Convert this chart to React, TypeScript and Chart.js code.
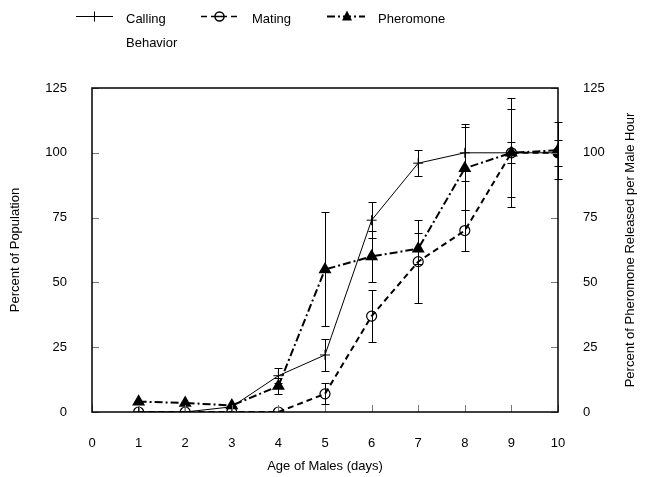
import React, { useEffect, useRef } from "react";
import { Chart, registerables } from "chart.js";

Chart.register(...registerables);

const days = [1, 2, 3, 4, 5, 6, 7, 8, 9, 10];
const calling = [0, 0, 2, 14, 22, 74, 96, 100, 100, 100];
const callingErr = [0, 0, 0, 3, 6, 7, 5, 11, 4, 5];
const mating = [0, 0, 0, 0, 7, 37, 58, 70, 100, 100];
const matingErr = [0, 0, 0, 0, 4, 10, 16, 8, 21, 0];
const pheromone = [4, 3.5, 2.5, 10, 55, 60, 63, 94, 100, 101];
const pheromoneErr = [0, 0, 0, 3, 22, 10, 6, 16, 17, 11];
const xTicks = [0, 1, 2, 3, 4, 5, 6, 7, 8, 9, 10];
const yTicks = [0, 25, 50, 75, 100, 125];

const FONT = "'Liberation Sans', Arial, Helvetica, sans-serif";

export default function App() {
  const ref = useRef<HTMLCanvasElement>(null);

  useEffect(() => {
    document.body.style.margin = "0";
    const canvas = ref.current!;
    const mk = (ys: number[]) => days.map((d, i) => ({ x: d, y: ys[i] }));

    const errPlugin = {
      id: "errbars",
      beforeDatasetsDraw(chart: any) {
        const ctx = chart.ctx;
        const xs = chart.scales.x;
        const sets = [
          { vals: calling, err: callingErr, axis: "y" },
          { vals: mating, err: matingErr, axis: "y" },
          { vals: pheromone, err: pheromoneErr, axis: "y2" },
        ];
        ctx.save();
        ctx.strokeStyle = "#000";
        ctx.lineWidth = 1;
        ctx.setLineDash([]);
        sets.forEach((s) => {
          const ys = chart.scales[s.axis];
          days.forEach((d, i) => {
            const e = s.err[i];
            if (!e) return;
            const px = Math.round(xs.getPixelForValue(d)) + 0.5;
            const top = Math.round(ys.getPixelForValue(s.vals[i] + e)) + 0.5;
            const bot = Math.round(ys.getPixelForValue(s.vals[i] - e)) + 0.5;
            ctx.beginPath();
            ctx.moveTo(px, top);
            ctx.lineTo(px, bot);
            ctx.moveTo(px - 4, top);
            ctx.lineTo(px + 4, top);
            ctx.moveTo(px - 4, bot);
            ctx.lineTo(px + 4, bot);
            ctx.stroke();
          });
        });
        ctx.restore();
      },
    };

    const framePlugin = {
      id: "frame",
      afterDraw(chart: any) {
        const ctx = chart.ctx;
        const a = chart.chartArea;
        const xs = chart.scales.x;
        const yl = chart.scales.y;
        const yr = chart.scales.y2;
        ctx.save();
        // inward ticks
        ctx.strokeStyle = "#777";
        ctx.lineWidth = 1;
        yTicks.forEach((v) => {
          const py = Math.round(yl.getPixelForValue(v)) + 0.5;
          ctx.beginPath();
          ctx.moveTo(a.left, py);
          ctx.lineTo(a.left + 7, py);
          ctx.stroke();
          const pr = Math.round(yr.getPixelForValue(v)) + 0.5;
          ctx.beginPath();
          ctx.moveTo(a.right, pr);
          ctx.lineTo(a.right - 7, pr);
          ctx.stroke();
        });
        xTicks.forEach((v) => {
          const px = Math.round(xs.getPixelForValue(v)) + 0.5;
          ctx.beginPath();
          ctx.moveTo(px, a.bottom);
          ctx.lineTo(px, a.bottom - 7);
          ctx.stroke();
        });
        // frame
        ctx.strokeStyle = "#000";
        ctx.lineWidth = 1.5;
        ctx.strokeRect(a.left, a.top, a.right - a.left, a.bottom - a.top);

        // right title
        ctx.fillStyle = "#000";
        ctx.font = `13px ${FONT}`;
        ctx.textAlign = "center";
        ctx.textBaseline = "middle";
        ctx.translate(630, (a.top + a.bottom) / 2);
        ctx.rotate(-Math.PI / 2);
        ctx.fillText("Percent of Pheromone Released per Male Hour", 0, 0);
        ctx.restore();

        // legend
        ctx.save();
        ctx.strokeStyle = "#000";
        ctx.fillStyle = "#000";
        const ly = 16.5;
        // calling
        ctx.lineWidth = 1;
        ctx.setLineDash([]);
        ctx.beginPath();
        ctx.moveTo(76, ly);
        ctx.lineTo(113, ly);
        ctx.moveTo(94.5, ly - 5);
        ctx.lineTo(94.5, ly + 5);
        ctx.stroke();
        // mating
        ctx.lineWidth = 1.5;
        ctx.setLineDash([6, 4]);
        ctx.beginPath();
        ctx.moveTo(201, ly);
        ctx.lineTo(238, ly);
        ctx.stroke();
        ctx.setLineDash([]);
        ctx.fillStyle = "#fff";
        ctx.beginPath();
        ctx.arc(219.5, ly, 4.5, 0, Math.PI * 2);
        ctx.fill();
        ctx.stroke();
        ctx.beginPath();
        ctx.moveTo(215, ly);
        ctx.lineTo(224, ly);
        ctx.stroke();
        // pheromone
        ctx.lineWidth = 2;
        ctx.setLineDash([8, 3, 2, 3]);
        ctx.beginPath();
        ctx.moveTo(327, ly);
        ctx.lineTo(365, ly);
        ctx.stroke();
        ctx.setLineDash([]);
        ctx.fillStyle = "#000";
        ctx.beginPath();
        ctx.moveTo(347, ly - 6);
        ctx.lineTo(352, ly + 4);
        ctx.lineTo(342, ly + 4);
        ctx.closePath();
        ctx.fill();
        // text
        ctx.font = `13px ${FONT}`;
        ctx.textAlign = "left";
        ctx.textBaseline = "middle";
        ctx.fillText("Calling", 126, 19);
        ctx.fillText("Behavior", 126, 43);
        ctx.fillText("Mating", 252, 19);
        ctx.fillText("Pheromone", 378, 19);
        ctx.restore();
      },
    };

    const tickFont = { family: FONT, size: 13 };

    const chart = new Chart(canvas, {
      type: "line",
      data: {
        datasets: [
          {
            label: "Calling Behavior",
            data: mk(calling),
            yAxisID: "y",
            borderColor: "#000",
            borderWidth: 1,
            pointStyle: "cross",
            pointRadius: 5,
            pointBorderColor: "#000",
            pointBorderWidth: 1,
            tension: 0,
          },
          {
            label: "Mating",
            data: mk(mating),
            yAxisID: "y",
            borderColor: "#000",
            borderWidth: 2,
            borderDash: [6, 4],
            pointStyle: "circle",
            pointRadius: 5,
            pointBorderColor: "#000",
            pointBorderWidth: 1.2,
            pointBackgroundColor: days.map((d, i) => (i === days.length - 1 ? "#000" : "rgba(0,0,0,0)")),
            tension: 0,
          },
          {
            label: "Pheromone",
            data: mk(pheromone),
            yAxisID: "y2",
            borderColor: "#000",
            borderWidth: 2,
            borderDash: [8, 3, 2, 3],
            pointStyle: "triangle",
            pointRadius: 5.5,
            pointBorderColor: "#000",
            pointBackgroundColor: "#000",
            tension: 0,
          },
        ],
      },
      options: {
        animation: false,
        responsive: true,
        maintainAspectRatio: false,
        layout: { padding: { top: 88, left: 0, right: 0, bottom: 0 } },
        plugins: { legend: { display: false }, tooltip: { enabled: false } },
        scales: {
          x: {
            type: "linear",
            min: 0,
            max: 10,
            grid: { display: false },
            border: { display: false },
            ticks: { stepSize: 1, color: "#000", font: tickFont, padding: 16, maxRotation: 0 },
            title: {
              display: true,
              text: "Age of Males (days)",
              color: "#000",
              font: tickFont,
              padding: { top: 0, bottom: 3 },
            },
            afterFit: (s: any) => {
              s.height = 65;
            },
          },
          y: {
            position: "left",
            min: 0,
            max: 125,
            grid: { display: false },
            border: { display: false },
            ticks: { stepSize: 25, color: "#000", font: tickFont, padding: 17 },
            title: {
              display: true,
              text: "Percent of Population",
              color: "#000",
              font: tickFont,
              padding: { top: 8, bottom: 0 },
            },
            afterFit: (s: any) => {
              s.width = 92;
            },
          },
          y2: {
            position: "right",
            min: 0,
            max: 125,
            grid: { display: false },
            border: { display: false },
            ticks: { stepSize: 25, color: "#000", font: tickFont, padding: 17 },
            afterFit: (s: any) => {
              s.width = 88;
            },
          },
        },
      },
      plugins: [errPlugin, framePlugin],
    } as any);

    return () => chart.destroy();
  }, []);

  return (
    <div style={{ position: "absolute", left: 0, top: 0, width: 646, height: 477 }}>
      <canvas ref={ref} />
    </div>
  );
}
